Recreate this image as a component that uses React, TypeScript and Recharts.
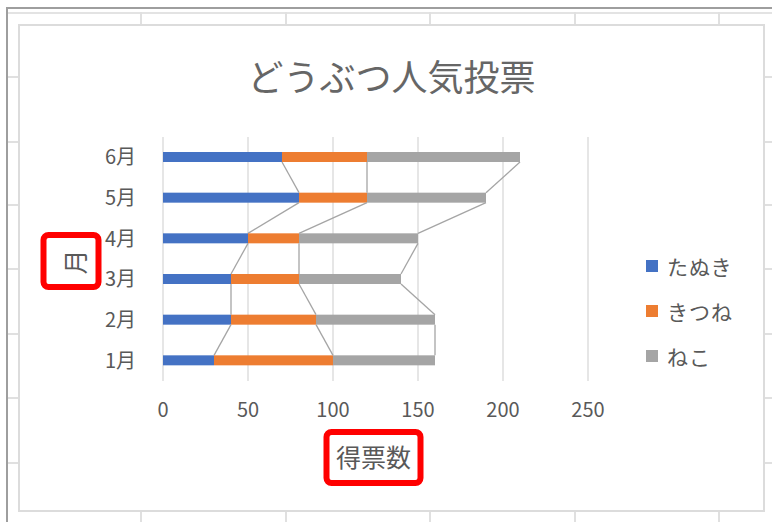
import React from 'react';
import { BarChart, Bar, XAxis, YAxis, CartesianGrid, Legend } from 'recharts';

const months = ['1月', '2月', '3月', '4月', '5月', '6月'];
const tanuki = [30, 40, 40, 50, 80, 70];
const kitsune = [70, 50, 40, 30, 40, 50];
const neko = [60, 70, 60, 70, 70, 90];
const xTicks = [0, 50, 100, 150, 200, 250];

const seriesNames = ['たぬき', 'きつね', 'ねこ'];
const seriesColors = ['#4472C4', '#ED7D31', '#A5A5A5'];

const data = months.map((m, i) => ({
  month: m,
  たぬき: tanuki[i],
  きつね: kitsune[i],
  ねこ: neko[i],
}));

const TEXT = '#595959';
const FONT = '"Noto Sans CJK JP", "Noto Sans", sans-serif';

// bar geometry seen so far, used to draw the series lines between stacks
const seen: Record<string, { x: number; y: number; w: number; h: number }> = {};

const makeShape = (key: string, color: string) => (props: any) => {
  const { x, y, width, height, index } = props;
  seen[`${key}-${index}`] = { x, y, w: width, h: height };
  const prev = seen[`${key}-${index - 1}`];
  return (
    <g>
      <rect x={x} y={y} width={width} height={height} fill={color} />
      {prev && (
        <line
          x1={x + width}
          y1={y + height}
          x2={prev.x + prev.w}
          y2={prev.y}
          stroke="#A5A5A5"
          strokeWidth={1.3}
        />
      )}
    </g>
  );
};

const XTitle = (props: any) => {
  const vb = props.viewBox;
  const cx = vb.x + vb.width / 2 - 2;
  const cy = vb.y + 75;
  return (
    <g>
      <text x={cx} y={cy} textAnchor="middle" dominantBaseline="central" fill={TEXT} fontSize={25}>
        得票数
      </text>
      <rect x={cx - 47} y={cy - 24} width={94} height={51} rx={5} fill="none" stroke="#FF0000" strokeWidth={6} />
    </g>
  );
};

const YTitle = (props: any) => {
  const vb = props.viewBox;
  const cx = 55.5;
  const cy = vb.y + vb.height / 2 + 3;
  return (
    <g>
      <text
        x={cx}
        y={cy}
        textAnchor="middle"
        dominantBaseline="central"
        fill={TEXT}
        fontSize={25}
        transform={`rotate(-90 ${cx} ${cy})`}
      >
        月
      </text>
      <rect x={cx - 30} y={cy - 27} width={55} height={52} rx={5} fill="none" stroke="#FF0000" strokeWidth={6} />
    </g>
  );
};

const LegendBox = (props: any) => {
  const items = [...(props.payload || [])].sort(
    (a: any, b: any) => seriesNames.indexOf(a.value) - seriesNames.indexOf(b.value)
  );
  return (
    <div>
      {items.map((p: any) => (
        <div key={p.value} style={{ height: 45, display: 'flex', alignItems: 'center' }}>
          <span style={{ width: 12, height: 12, background: p.color, marginRight: 9, display: 'inline-block' }} />
          <span style={{ color: TEXT, fontSize: 21, letterSpacing: 1 }}>{p.value}</span>
        </div>
      ))}
    </div>
  );
};

const cellLinesX = [140, 285, 429, 574, 718];
const cellLinesY = [76, 141, 204, 268, 333, 397, 462];

export default function App() {
  return (
    <div style={{ position: 'absolute', left: 0, top: 0, width: 772, height: 522, background: '#fff', fontFamily: FONT, overflow: 'hidden' }}>
      {/* spreadsheet behind the chart */}
      <div style={{ position: 'absolute', left: 6, top: 7, width: 766, height: 2, background: '#9E9E9E' }} />
      <div style={{ position: 'absolute', left: 6, top: 7, width: 2, height: 515, background: '#9E9E9E' }} />
      <div style={{ position: 'absolute', left: 8, top: 12, width: 764, height: 2, background: '#E3E3E3' }} />
      {cellLinesX.map((x) => (
        <React.Fragment key={x}>
          <div style={{ position: 'absolute', left: x, top: 12, width: 2, height: 12, background: '#E0E0E0' }} />
          <div style={{ position: 'absolute', left: x, top: 512, width: 2, height: 10, background: '#E0E0E0' }} />
        </React.Fragment>
      ))}
      {cellLinesY.map((y) => (
        <React.Fragment key={y}>
          <div style={{ position: 'absolute', left: 8, top: y, width: 10, height: 2, background: '#E0E0E0' }} />
          <div style={{ position: 'absolute', left: 765, top: y, width: 7, height: 2, background: '#E0E0E0' }} />
        </React.Fragment>
      ))}

      <div style={{ position: 'absolute', left: 18, top: 24, width: 747, height: 488, background: '#fff' }}>
        <BarChart
          width={747}
          height={488}
          data={data}
          layout="vertical"
          margin={{ top: 113, right: 177, bottom: 101, left: 0 }}
        >
          <CartesianGrid horizontal={false} stroke="#D9D9D9" strokeWidth={1.3} />
          <XAxis
            type="number"
            domain={[0, 250]}
            ticks={xTicks}
            axisLine={false}
            tickLine={false}
            tickSize={0}
            tickMargin={22}
            height={30}
            tick={{ fill: TEXT, fontSize: 20 }}
            label={{ content: <XTitle /> }}
          />
          <YAxis
            type="category"
            dataKey="month"
            reversed
            width={145}
            axisLine={false}
            tickLine={false}
            tickSize={0}
            tickMargin={27}
            tick={{ fill: TEXT, fontSize: 20 }}
            label={{ content: <YTitle /> }}
          />
          <Legend
            layout="vertical"
            align="center"
            verticalAlign="middle"
            content={<LegendBox />}
            wrapperStyle={{ left: 628, top: 219, width: 120 }}
          />
          {seriesNames.map((name, i) => (
            <Bar
              key={name}
              dataKey={name}
              stackId="a"
              fill={seriesColors[i]}
              barSize={10}
              isAnimationActive={false}
              shape={makeShape(name, seriesColors[i])}
            />
          ))}
        </BarChart>
        <div
          style={{
            position: 'absolute',
            left: 0,
            top: 33,
            width: 747,
            textAlign: 'center',
            fontSize: 36,
            color: '#666666',
            lineHeight: '36px',
          }}
        >
          どうぶつ人気投票
        </div>
      </div>
      <div style={{ position: 'absolute', left: 18, top: 24, width: 747, height: 488, boxSizing: 'border-box', border: '2px solid #DCDCDC', pointerEvents: 'none' }} />
    </div>
  );
}
